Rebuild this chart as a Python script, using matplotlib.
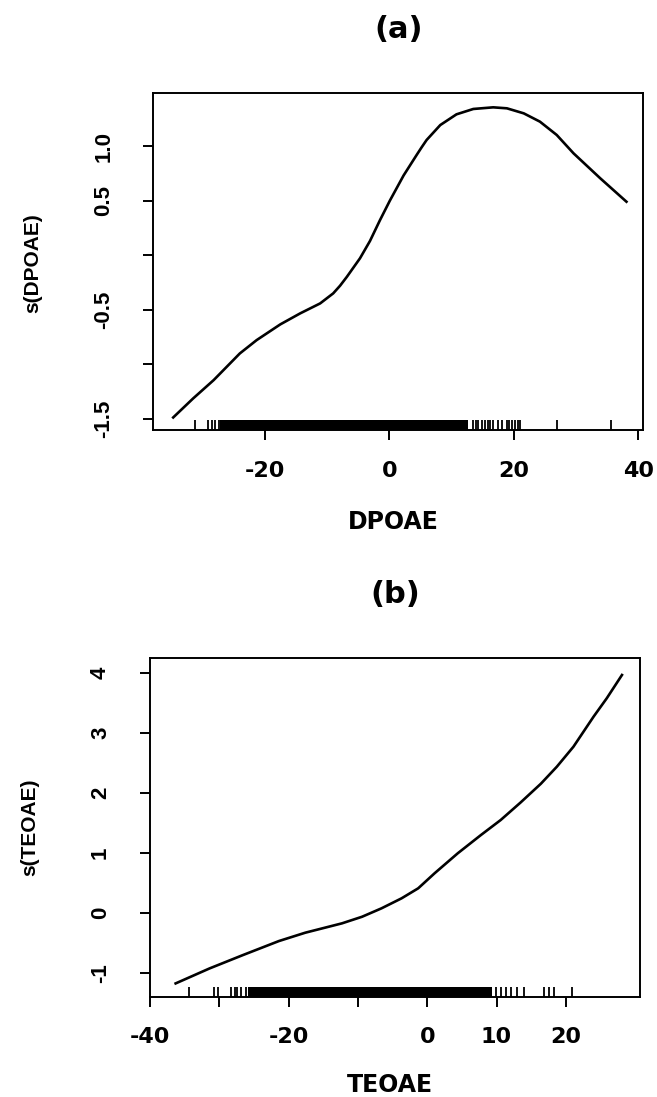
import matplotlib
matplotlib.use("Agg")
import matplotlib.pyplot as plt
import matplotlib.transforms as mtransforms

# fitted smooth for DPOAE
dp_x = [-34.7, -31.5, -28.2, -24.0, -21.3, -17.5, -14.3, -11.1, -9.0, -7.9, -6.8, -4.7,
        -3.1, -1.5, 0.1, 2.3, 4.4, 5.2, 6.0, 8.2, 10.8, 13.5, 16.7, 18.9, 21.6, 24.2,
        26.9, 29.6, 33.9, 38.1]
dp_s = [-1.485, -1.311, -1.143, -0.899, -0.777, -0.633, -0.532, -0.441, -0.349, -0.279,
        -0.197, -0.028, 0.130, 0.320, 0.500, 0.730, 0.918, 0.988, 1.055, 1.192, 1.290,
        1.339, 1.354, 1.345, 1.299, 1.223, 1.101, 0.933, 0.704, 0.490]
dp_rug = [-31.2, -29.1, -28.5, -28.0, -27.4, 13.5, 13.9, 14.3, 14.9, 15.4, 15.8, 16.2,
          16.7, 17.5, 18.1, 18.9, 19.3, 19.7, 20.2, 20.6, 21.0, 26.9, 35.6]
dp_rug_dense = (-27.2, 12.7)
dp_xticks = [-20, 0, 20, 40]
dp_xlabels = ["-20", "0", "20", "40"]
dp_yticks = [1.0, 0.5, 0.0, -0.5, -1.0, -1.5]
dp_ylabels = ["1.0", "0.5", "", "-0.5", "", "-1.5"]

# fitted smooth for TEOAE
te_x = [-36.3, -31.4, -26.6, -21.4, -17.6, -12.3, -9.4, -6.6, -3.7, -1.3, 1.06, 4.4,
        7.75, 10.6, 13.5, 16.4, 18.7, 21.1, 24.0, 25.9, 28.1]
te_s = [-1.178, -0.928, -0.706, -0.472, -0.333, -0.177, -0.067, 0.073, 0.240, 0.407,
        0.657, 0.990, 1.295, 1.545, 1.840, 2.150, 2.433, 2.767, 3.267, 3.573, 3.962]
te_rug = [-34.3, -30.7, -30.2, -28.3, -27.8, -27.4, -26.8, -26.2, 9.9, 10.6, 11.3, 12.1,
          13.0, 14.0, 16.8, 17.6, 18.3, 20.9]
te_rug_dense = (-25.9, 9.4)
te_xticks = [-40, -30, -20, -10, 0, 10, 20]
te_xlabels = ["-40", "", "-20", "", "0", "10", "20"]
te_yticks = [4, 3, 2, 1, 0, -1]
te_ylabels = ["4", "3", "2", "1", "0", "-1"]

HFONT = "DejaVu Sans"
VFONT = "Liberation Sans"

fig = plt.figure(figsize=(6.57, 10.97), dpi=100)
ax_a = fig.add_axes([0.2333, 0.6080, 0.7458, 0.3075])
ax_b = fig.add_axes([0.2283, 0.0914, 0.7458, 0.3085])


def draw_panel(ax, x, s, rug, dense, xlim, ylim, xticks, xlabels, yticks, ylabels,
               title, xlabel, ylabel, xlab_y, ylab_pos):
    ax.plot(x, s, color="black", lw=1.9, solid_joinstyle="round")
    # rug along the bottom, 3% of the plot height
    trans = mtransforms.blended_transform_factory(ax.transData, ax.transAxes)
    ax.vlines(rug, 0, 0.03, transform=trans, color="black", lw=1.3)
    ax.axvspan(dense[0], dense[1], ymin=0, ymax=0.03, color="black", lw=0)
    ax.set_xlim(*xlim)
    ax.set_ylim(*ylim)
    ax.set_xticks(xticks, xlabels, fontsize=16, fontweight="bold", family=HFONT)
    ax.set_yticks(yticks, ylabels, fontsize=16, fontweight="bold", family=VFONT,
                  rotation=90, va="center")
    ax.tick_params(axis="x", length=7, width=1.4, pad=15)
    ax.tick_params(axis="y", length=7, width=1.4, pad=21)
    for sp in ax.spines.values():
        sp.set_linewidth(1.4)
    ax.set_title(title, fontsize=22, fontweight="bold", family=HFONT, pad=39.5)
    ax.set_xlabel(xlabel, fontsize=17, fontweight="bold", family=HFONT, va="top")
    ax.xaxis.set_label_coords(0.489, xlab_y)
    ax.set_ylabel(ylabel, fontsize=15, fontweight="bold", family=VFONT, va="center")
    ax.yaxis.set_label_coords(*ylab_pos)


draw_panel(ax_a, dp_x, dp_s, dp_rug, dp_rug_dense, (-37.9, 40.8), (-1.60, 1.488),
           dp_xticks, dp_xlabels, dp_yticks, dp_ylabels,
           "(a)", "DPOAE", "s(DPOAE)", -0.238, (-0.2455, 0.495))
draw_panel(ax_b, te_x, te_s, te_rug, te_rug_dense, (-39.5, 30.7), (-1.40, 4.24),
           te_xticks, te_xlabels, te_yticks, te_ylabels,
           "(b)", "TEOAE", "s(TEOAE)", -0.225, (-0.245, 0.5015))

fig.savefig("out.png", dpi=100)
